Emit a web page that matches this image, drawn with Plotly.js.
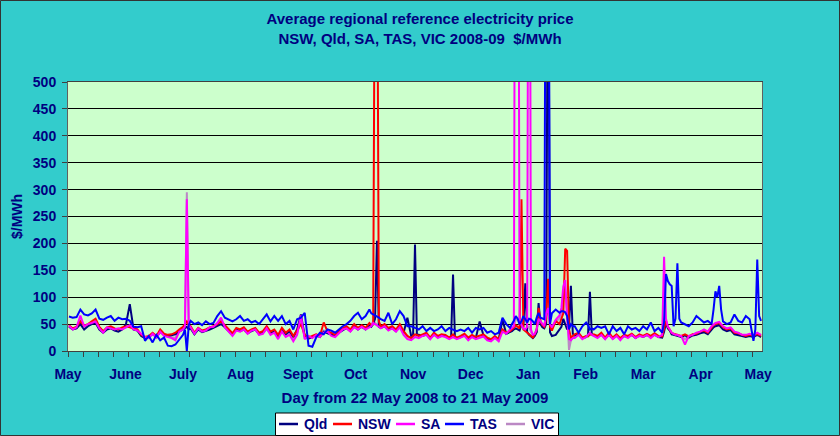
<!DOCTYPE html>
<html>
<head>
<meta charset="utf-8">
<script src="https://cdn.plot.ly/plotly-3.0.1.min.js"></script>
<style>
  html, body { margin: 0; padding: 0; background: #33CCCC; }
  #chart { width: 840px; height: 436px; }
</style>
</head>
<body>
<div id="chart"></div>
<script>
// Month labels along the day axis (22 May 2008 .. 21 May 2009)
const monthLabels = ['May', 'June', 'July', 'Aug', 'Sept', 'Oct', 'Nov', 'Dec', 'Jan', 'Feb', 'Mar', 'Apr', 'May'];

// Day index of each sample (0 = 22 May 2008); every second day, daily around price events
const days = [
  0, 2, 4, 6, 8, 10, 12, 14, 16, 18, 20, 22, 24, 26, 28, 30, 32, 34, 36, 38, 40, 42, 44, 46, 48, 50, 52, 54, 56, 58,
  60, 61, 62, 63, 64,
  66, 68, 70, 72, 74, 76, 78, 80, 82, 84, 86, 88, 90, 92, 94, 96, 98, 100, 102, 104, 106, 108, 110, 112, 114, 116,
  118, 120, 122, 124, 126, 128, 130, 132, 134, 136, 138, 140, 142, 144, 146, 148, 150, 152, 154, 156,
  158, 159, 160, 161, 162, 163, 164,
  166, 168, 170, 172, 174, 176, 178,
  180, 181, 182, 183, 184,
  186, 188, 190, 192, 194, 196, 198,
  200, 201, 202, 203, 204,
  206, 208, 210, 212, 214, 216, 218, 220, 222, 224, 226, 228, 230,
  232, 233, 234, 235, 236, 237, 238, 239, 240, 241, 242, 243, 244, 245, 246, 247, 248, 249, 250, 251, 252, 253, 254,
  256,
  258, 259, 260, 261, 262, 263, 264, 265, 266,
  268, 270,
  272, 273, 274, 275, 276,
  278, 280, 282, 284, 286, 288, 290, 292, 294, 296, 298, 300, 302, 304, 306, 308, 310,
  312, 313, 314, 315, 316, 317, 318, 319, 320, 321, 322,
  324, 326, 328, 330, 332, 334, 336,
  338, 339, 340, 341, 342, 343, 344,
  346, 348, 350, 352, 354, 356, 358,
  360, 361, 362, 363, 364
];

// Average regional reference price, $/MWh, one value per entry of `days`
const qld = [
  45, 40, 42, 50, 40, 46, 50, 52, 40, 34, 40, 42, 38, 36, 40, 50, 87, 40, 38, 28, 24, 26, 32, 26, 36, 30, 28, 29, 31, 36,
  40, 42, 45, 40, 42,
  31, 40, 35, 37, 40, 43, 46, 50, 44, 36, 30, 40, 37, 40, 33, 37, 40, 31, 34, 42, 33, 37, 28, 40, 31, 37,
  26, 40, 68, 28, 23, 26, 29, 26, 36, 33, 31, 28, 34, 39, 43, 37, 46, 40, 45, 40,
  48, 45, 50, 60, 205, 45, 43,
  46, 40, 43, 37, 46, 34, 62,
  28, 30, 198, 30, 30,
  28, 31, 23, 31, 26, 28, 28,
  24, 26, 142, 26, 24,
  26, 30, 23, 28, 24, 55, 29, 23, 21, 26, 21, 58, 32,
  35, 37, 40, 42, 40, 38, 50, 45, 126, 35, 30, 27, 24, 28, 35, 89, 50, 44, 42, 50, 900, 35, 28,
  30,
  40, 45, 60, 50, 40, 45, 121, 32, 29,
  31, 24,
  26, 30, 110, 30, 29,
  26, 31, 23, 31, 23, 29, 22, 28, 26, 30, 24, 29, 26, 30, 26, 31, 26,
  25, 36, 52, 42, 38, 31, 30, 29, 29, 27, 26,
  29, 25, 29, 30, 33, 35, 31,
  40, 44, 46, 47, 48, 44, 40,
  37, 39, 31, 30, 28, 26, 28,
  26, 28, 30, 28, 26
];
const nsw = [
  48, 42, 45, 55, 47, 50, 55, 60, 45, 37, 44, 46, 42, 40, 44, 46, 44, 42, 40, 30, 26, 28, 34, 28, 40, 32, 30, 31, 34, 40,
  45, 50, 55, 48, 46,
  34, 43, 38, 40, 44, 46, 50, 55, 48, 40, 33, 43, 40, 44, 36, 40, 43, 34, 37, 46, 36, 40, 30, 43, 34, 40,
  28, 38, 50, 30, 25, 28, 31, 28, 53, 36, 34, 30, 37, 42, 46, 40, 50, 43, 48, 43,
  52, 48, 50, 900, 900, 55, 46,
  50, 43, 46, 40, 50, 37, 28,
  24, 28, 31, 30, 28,
  31, 34, 25, 34, 28, 31, 30,
  25, 28, 31, 27, 25,
  28, 32, 25, 30, 26, 28, 31, 25, 22, 28, 22, 40, 34,
  37, 40, 43, 48, 45, 42, 282, 40, 37, 33, 31, 28, 25, 31, 40, 80, 55, 48, 45, 60, 134, 45, 38,
  56,
  50, 60, 70, 190, 186, 40, 25, 28, 31,
  34, 25,
  28, 27, 31, 30, 31,
  28, 34, 25, 34, 25, 31, 24, 30, 28, 32, 26, 31, 28, 32, 28, 33, 28,
  27, 40, 56, 45, 40, 34, 32, 31, 31, 30, 28,
  31, 27, 31, 32, 36, 38, 34,
  44, 48, 50, 51, 52, 48, 44,
  40, 42, 34, 33, 30, 28, 30,
  28, 30, 32, 30, 28
];
const sa = [
  47, 40, 44, 66, 46, 50, 52, 55, 42, 34, 44, 42, 40, 42, 40, 44, 48, 40, 38, 32, 26, 24, 32, 25, 36, 28, 26, 24, 20, 36,
  40, 45, 282, 48, 44,
  32, 42, 36, 38, 44, 45, 52, 62, 44, 36, 28, 38, 36, 40, 32, 38, 40, 30, 32, 42, 30, 34, 22, 36, 26, 30,
  18, 30, 66, 22, 28, 24, 30, 26, 34, 36, 28, 26, 34, 40, 42, 36, 44, 40, 45, 40,
  44, 46, 52, 50, 48, 45, 42,
  46, 38, 42, 36, 44, 30, 22,
  20, 24, 26, 25, 24,
  28, 30, 22, 30, 24, 28, 26,
  22, 24, 26, 24, 22,
  25, 28, 20, 26, 22, 25, 27, 20, 18, 24, 18, 36, 32,
  40, 44, 46, 1500, 1500, 55, 48, 42, 40, 45, 1500, 40, 30, 32, 40, 60, 55, 50, 46, 70, 80, 50, 44,
  58,
  66, 80, 120, 132, 60, 22, 20, 24, 24,
  30, 22,
  26, 30, 34, 30, 28,
  24, 30, 22, 30, 22, 28, 20, 28, 24, 30, 24, 28, 26, 30, 24, 30, 26,
  30, 175, 60, 45, 40, 34, 32, 30, 30, 28, 28,
  12, 28, 30, 34, 36, 40, 36,
  46, 50, 52, 53, 54, 50, 46,
  42, 44, 36, 34, 30, 30, 32,
  30, 32, 34, 32, 30
];
const tas = [
  64, 62, 63, 77, 68, 66, 70, 77, 60, 58, 62, 65, 56, 62, 59, 60, 56, 45, 44, 46, 19, 28, 16, 30, 20, 25, 10, 9, 12, 22,
  30, 40, 0, 48, 56,
  50, 53, 48, 55, 50, 52, 65, 74, 62, 59, 55, 59, 65, 56, 59, 53, 56, 50, 60, 68, 55, 65, 56, 65, 50, 56,
  40, 59, 62, 71, 10, 8, 25, 34, 31, 40, 38, 34, 40, 46, 50, 56, 65, 71, 59, 65,
  77, 70, 68, 66, 65, 62, 59,
  56, 71, 50, 59, 74, 65, 46,
  46, 44, 43, 42, 40,
  46, 37, 43, 37, 40, 46, 37,
  43, 41, 40, 38, 37,
  40, 37, 43, 34, 43, 40, 43, 34, 37, 31, 34, 62, 50,
  43, 50, 56, 65, 60, 50, 55, 65, 58, 53, 60, 59, 55, 50, 62, 71, 62, 60, 59, 1200, 1200, 50, 70,
  77,
  71, 74, 74, 72, 65, 40, 50, 46, 46,
  34, 46,
  53, 48, 40, 42, 40,
  46, 43, 46, 31, 46, 37, 43, 31, 46, 40, 43, 37, 46, 40, 53, 37, 43,
  34, 53, 143, 130, 124, 121, 46, 60, 163, 60, 53,
  50, 46, 53, 65, 59, 53, 56,
  50, 77, 111, 100, 121, 77, 55,
  50, 53, 68, 56, 53, 65, 59,
  19, 40, 170, 65, 56
];
const vic = [
  46, 41, 43, 60, 45, 48, 52, 56, 42, 35, 42, 43, 40, 40, 41, 44, 46, 40, 38, 30, 25, 26, 32, 26, 37, 29, 27, 26, 24, 37,
  42, 44, 295, 46, 44,
  32, 42, 36, 38, 43, 45, 50, 58, 45, 37, 30, 40, 37, 41, 33, 38, 41, 31, 34, 43, 32, 36, 25, 38, 29, 33,
  22, 33, 60, 24, 27, 26, 30, 27, 38, 35, 30, 28, 35, 40, 43, 37, 46, 41, 45, 41,
  46, 48, 55, 52, 50, 46, 43,
  47, 40, 43, 37, 45, 33, 25,
  22, 25, 28, 27, 26,
  29, 31, 24, 31, 26, 29, 27,
  23, 25, 28, 25, 23,
  26, 29, 22, 27, 24, 26, 28, 22, 20, 25, 20, 38, 33,
  38, 42, 44, 60, 58, 50, 50, 42, 38, 42, 45, 35, 28, 30, 36, 65, 52, 48, 48, 65, 80, 48, 42,
  55,
  60, 70, 95, 110, 70, 2, 20, 25, 26,
  31, 24,
  27, 30, 33, 30, 29,
  26, 31, 24, 31, 24, 29, 22, 29, 26, 31, 25, 29, 27, 31, 26, 31, 27,
  29, 60, 50, 44, 40, 33, 31, 30, 30, 28, 27,
  22, 27, 30, 33, 35, 38, 35,
  44, 48, 50, 51, 52, 48, 45,
  41, 43, 35, 33, 29, 28, 31,
  29, 31, 33, 31, 29
];

const NAVY = '#000080';
const FONT = 'Liberation Sans, Arial, Helvetica, sans-serif';
const font = (size) => ({ family: FONT, size: size, color: NAVY, weight: 'bold' });

const regions = [
  { name: 'Qld', y: qld, color: NAVY },
  { name: 'NSW', y: nsw, color: '#FF0000' },
  { name: 'SA',  y: sa,  color: '#FF00FF' },
  { name: 'TAS', y: tas, color: '#0000FF' },
  { name: 'VIC', y: vic, color: '#BB88C4' }
];

// VIC goes underneath, the rest in legend order
const drawOrder = ['VIC', 'Qld', 'NSW', 'SA', 'TAS'];
const traces = drawOrder.map(n => {
  const r = regions.find(s => s.name === n);
  return {
    type: 'scatter', mode: 'lines', name: r.name, x: days, y: r.y,
    line: { color: r.color, width: 2 }, hoverinfo: 'skip', showlegend: false
  };
});

const W = 840, H = 436;
const M = { l: 68, r: 78, t: 82, b: 85 };
const pw = W - M.l - M.r, ph = H - M.t - M.b;
// pixel -> paper helpers for the boxed legend and frame
const px = (x) => (x - M.l) / pw;
const py = (y) => (H - M.b - y) / ph;

const monthStep = 30.25;
const monthTicks = monthLabels.map((_, k) => k * monthStep - 0.5);
const minorTicks = [];
for (let v = -0.5; v <= 364.5; v += 8) minorTicks.push(v);

// Boxed legend below the axis title
const legendBox = { x0: 275.5, x1: 558.5, y0: 413, y1: 435.5, yMid: 424 };
const legendSlots = [279, 333, 396, 445, 506];   // left end of each key line
const keyLen = 19, keyGap = 4;

const shapes = [
  {
    type: 'rect', xref: 'paper', yref: 'paper', layer: 'above',
    x0: px(0.5), x1: px(W - 0.5), y0: py(H - 0.5), y1: py(0.5),
    line: { color: '#333333', width: 1 }, fillcolor: 'rgba(0,0,0,0)'
  },
  {
    type: 'rect', xref: 'paper', yref: 'paper', layer: 'above',
    x0: px(legendBox.x0), x1: px(legendBox.x1), y0: py(legendBox.y1), y1: py(legendBox.y0),
    line: { color: '#000000', width: 1 }, fillcolor: '#FFFFFF'
  }
];
const annotations = [];
regions.forEach((r, i) => {
  const x = legendSlots[i];
  shapes.push({
    type: 'line', xref: 'paper', yref: 'paper', layer: 'above',
    x0: px(x), x1: px(x + keyLen), y0: py(legendBox.yMid), y1: py(legendBox.yMid),
    line: { color: r.color, width: 2.5 }
  });
  annotations.push({
    xref: 'paper', yref: 'paper', x: px(x + keyLen + keyGap), y: py(legendBox.yMid),
    xanchor: 'left', yanchor: 'middle', showarrow: false,
    text: r.name, font: font(14)
  });
});

const layout = {
  width: W, height: H,
  margin: { l: M.l, r: M.r, t: M.t, b: M.b, autoexpand: false },
  paper_bgcolor: '#33CCCC',
  plot_bgcolor: '#CCFFCC',
  font: font(14),
  showlegend: false,
  title: {
    text: 'Average regional reference electricity price<br>NSW, Qld, SA, TAS, VIC 2008-09\u00a0 $/MWh',
    font: font(15),
    x: 0.5, xref: 'container', xanchor: 'center',
    y: 1 - 24 / H, yref: 'container', yanchor: 'top'
  },
  xaxis: {
    range: [-0.5, 364.5],
    tickmode: 'array', tickvals: monthTicks, ticktext: monthLabels,
    ticks: '', ticklabelstandoff: 10,
    tickfont: font(14),
    showgrid: false, zeroline: false,
    showline: true, linecolor: '#404040', linewidth: 1, mirror: true,
    minor: { tickmode: 'array', tickvals: minorTicks, ticks: 'outside', ticklen: 5, tickcolor: '#404040', showgrid: false },
    title: { text: 'Day from 22 May 2008 to 21 May 2009', font: font(15), standoff: 11 },
    fixedrange: true
  },
  yaxis: {
    range: [0, 500], dtick: 50, tick0: 0,
    ticks: 'outside', ticklen: 5, tickcolor: '#404040', ticklabelstandoff: 3,
    tickfont: font(14),
    showgrid: true, gridcolor: '#000000', gridwidth: 1,
    zeroline: false,
    showline: true, linecolor: '#606060', linewidth: 1, mirror: true,
    title: { text: '$/MWh', font: font(14), standoff: 6 },
    fixedrange: true
  },
  shapes: shapes,
  annotations: annotations
};

Plotly.newPlot('chart', traces, layout, { staticPlot: true, displayModeBar: false });
</script>
</body>
</html>
